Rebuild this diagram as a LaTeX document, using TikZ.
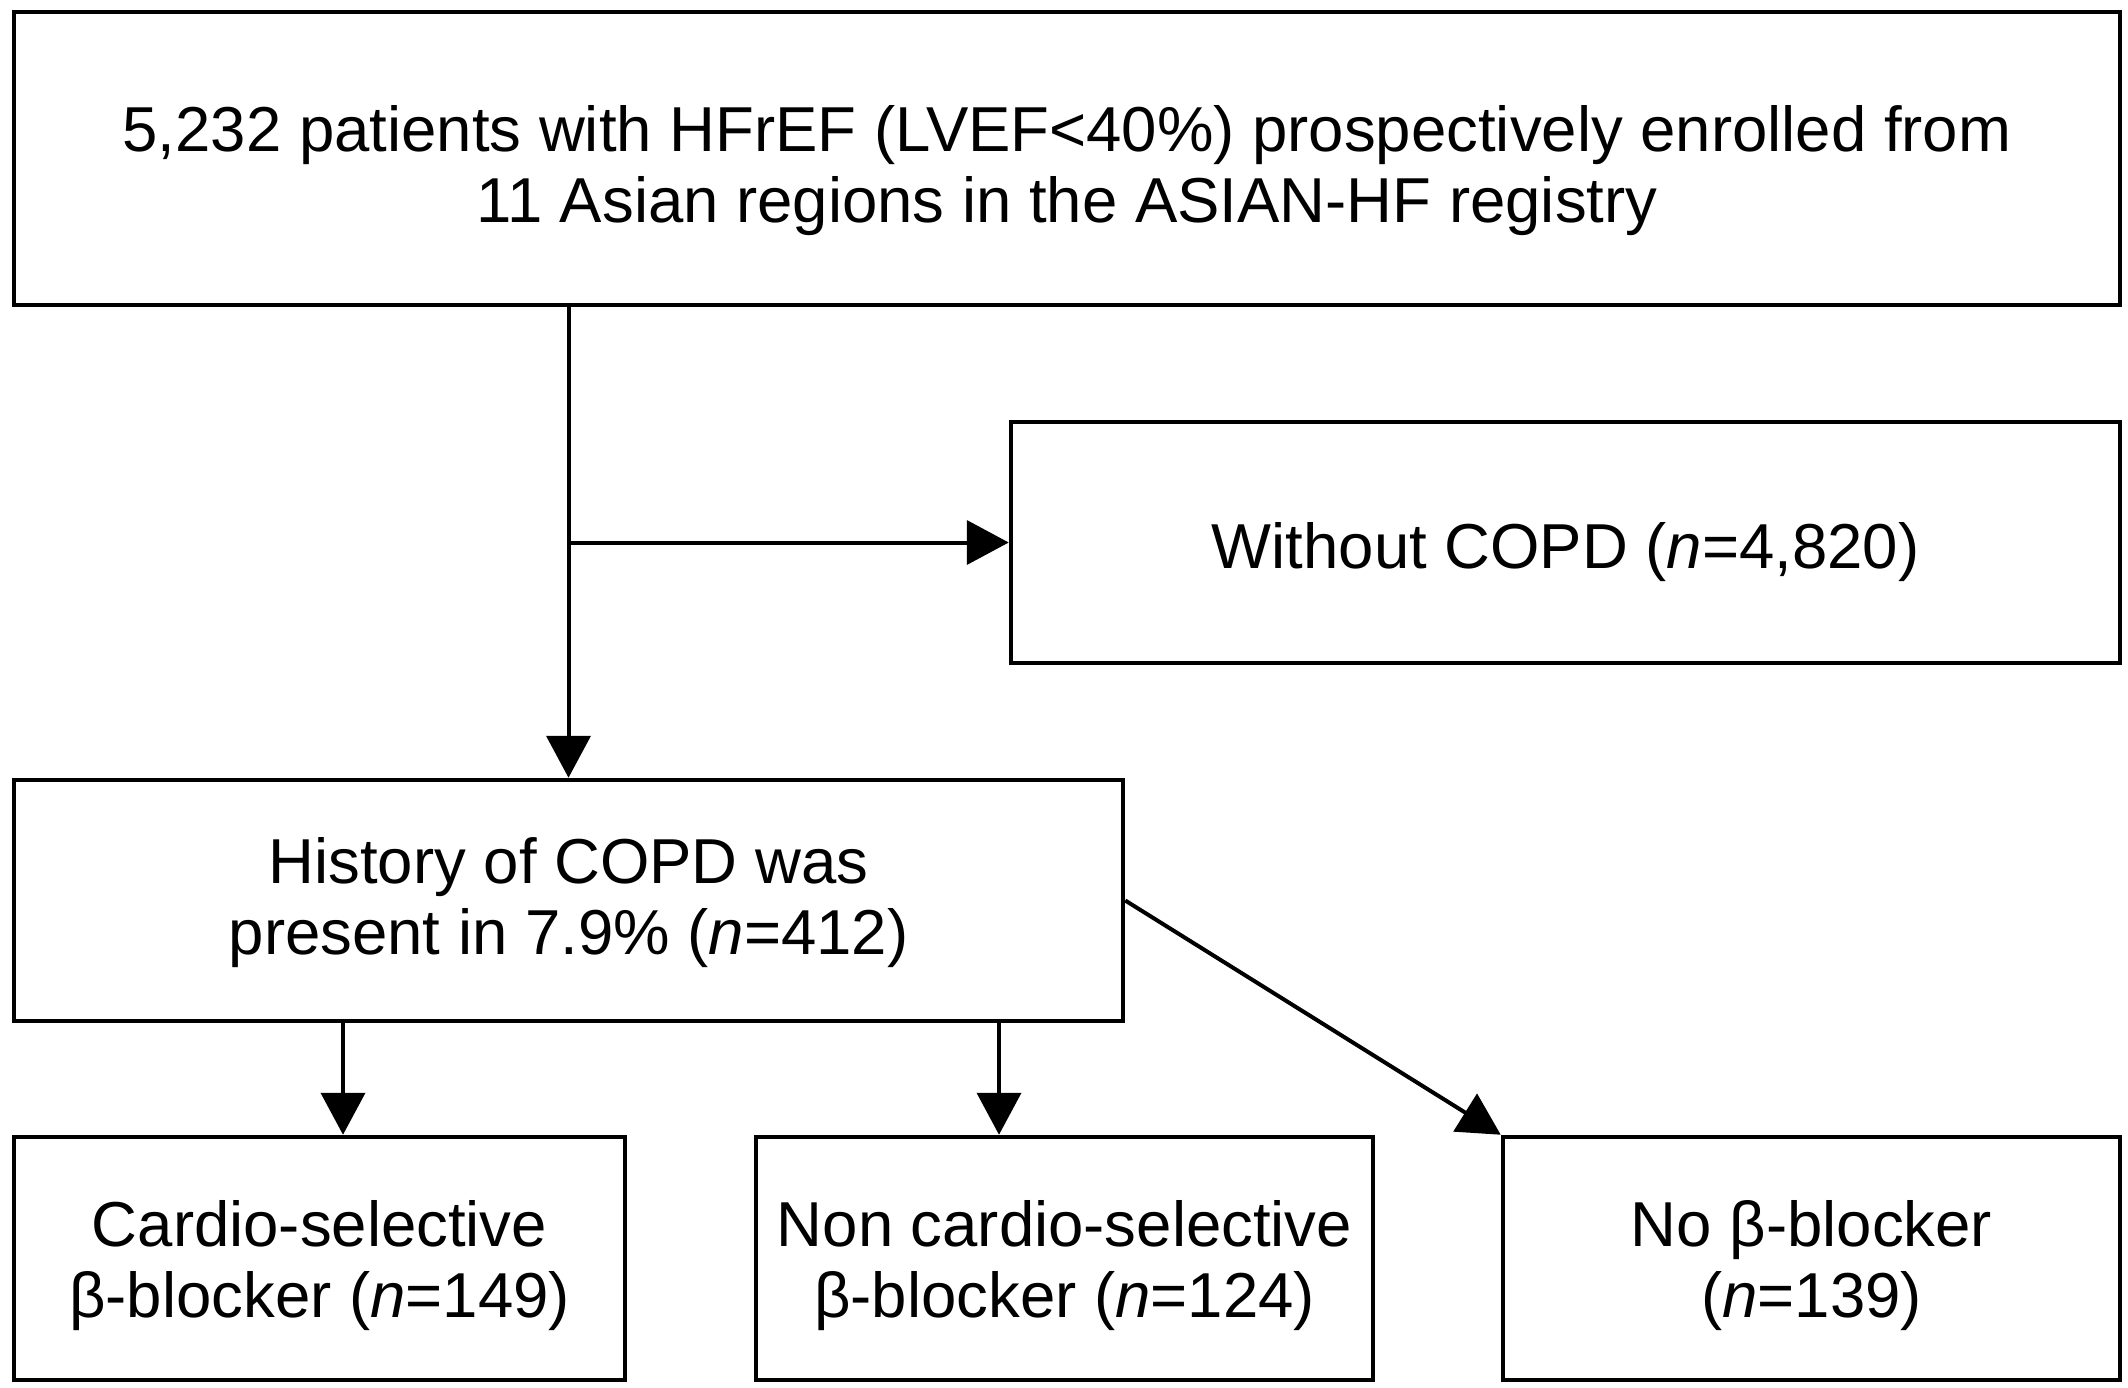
\documentclass[tikz,border=0pt]{standalone}
\usepackage{fontspec}
\setmainfont{Liberation Sans}
\usetikzlibrary{arrows.meta}
\begin{document}
\begin{tikzpicture}[x=1pt,y=-1pt,
  box/.style={draw=black, line width=4.5pt, fill=white, rectangle, inner sep=0pt},
  txt/.style={align=center, inner sep=0pt, font=\fontsize{63.5}{71}\selectfont},
  arr/.style={line width=4pt, -{Triangle[length=42pt,width=44pt]}}]
\useasboundingbox (0,0) rectangle (2128,1387);
\node[box, minimum width=2106pt, minimum height=293pt,
  label={[txt, yshift=-12pt]center:{5,232 patients with HFrEF (LVEF<40\%) prospectively enrolled from\\11 Asian regions in the ASIAN-HF registry}}] (top) at (1067,158.5) {};
\node[box, minimum width=1109pt, minimum height=241pt,
  label={[txt, yshift=-10pt]center:{Without COPD (\textit{n}=4,820)}}] (without) at (1565.5,542.5) {};
\node[box, minimum width=1109pt, minimum height=241pt,
  label={[txt, yshift=-2pt]center:{History of COPD was\\present in 7.9\% (\textit{n}=412)}}] (history) at (568.5,900.5) {};
\node[box, minimum width=611pt, minimum height=243pt,
  label={[txt, yshift=-7pt]center:{Cardio-selective\\β-blocker (\textit{n}=149)}}] (b1) at (319.5,1258.5) {};
\node[box, minimum width=617pt, minimum height=243pt,
  label={[txt, yshift=-7pt]center:{Non cardio-selective\\β-blocker (\textit{n}=124)}}] (b2) at (1064.5,1258.5) {};
\node[box, minimum width=617pt, minimum height=243pt,
  label={[txt, yshift=-7pt]center:{No β-blocker\\(\textit{n}=139)}}] (b3) at (1811.5,1258.5) {};
\coordinate (br) at (history.north |- without.west);
\coordinate (a1) at (343,0);
\coordinate (a2) at (999,0);
\draw[arr] (top.south -| history.north) -- (history.north);
\draw[arr] (br) -- (without.west);
\draw[arr] (history.south -| a1) -- (b1.north -| a1);
\draw[arr] (history.south -| a2) -- (b2.north -| a2);
\draw[arr] (history.east) -- (b3.north west);
\end{tikzpicture}
\end{document}
